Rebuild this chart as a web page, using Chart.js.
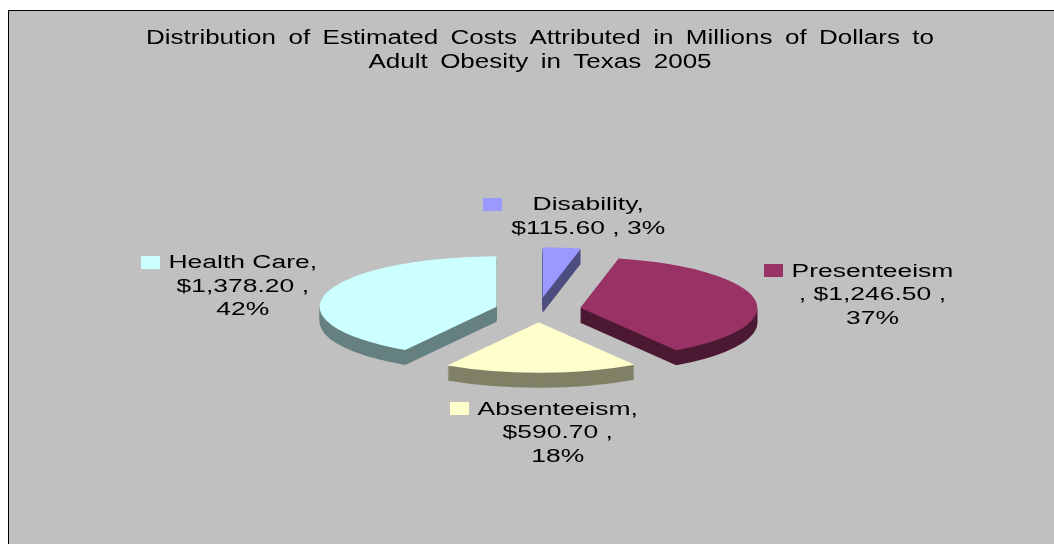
<!DOCTYPE html>
<html>
<head>
<meta charset="utf-8">
<script src="https://cdn.jsdelivr.net/npm/chart.js@4.4.1/dist/chart.umd.min.js"></script>
<style>
  html, body { margin: 0; padding: 0; background: #fff; }
  canvas { display: block; }
</style>
</head>
<body>
<canvas id="pie-chart" width="1054" height="544"></canvas>
<script>
// Values (millions of dollars, Texas 2005)
var categories = ['Disability', 'Presenteeism', 'Absenteeism', 'Health Care'];
var costs = [115.60, 1246.50, 590.70, 1378.20];
var percentLabels = ['3%', '37%', '18%', '42%'];
var titleLines = [
    'Distribution of Estimated Costs Attributed in Millions of Dollars to',
    'Adult Obesity in Texas 2005'
];

// Colours of the top faces and of the darker sides
var topColors = ['#9999FF', '#993366', '#FFFFCC', '#CCFFFF'];
var sideColors = ['#4D4D80', '#4D1A33', '#808066', '#668080'];

// Look of the fake 3D pie
var TILT = 0.285;      // vertical squash of the pie
var DEPTH = 15;        // thickness in px
var EXPLODE = 43;      // how far each slice is pulled out
var RADIUS = 177;
var FONT = "'Liberation Sans', Arial, sans-serif";
var STRETCH = 1.47;    // the original text is drawn wide
var LINE_H = 23.5;

function money(v) {
    return '$' + v.toLocaleString('en-US', {minimumFractionDigits: 2, maximumFractionDigits: 2});
}

// line breaks as they are in the picture
function labelLines(i) {
    var name = categories[i], val = money(costs[i]), pct = percentLabels[i];
    if (i === 0) return [name + ',', val + ' , ' + pct];
    if (i === 1) return [name, ', ' + val + ' ,', pct];
    return [name + ',', val + ' ,', pct];
}

// squash around the pie centre, then drop by "drop" px
function tilt(c, cx, cy, drop) {
    c.translate(cx, cy + drop);
    c.scale(1, TILT);
    c.translate(-cx, -cy);
}

function wideText(c, text, x, y, sx) {
    c.save();
    c.translate(x, y);
    c.scale(sx, 1);
    c.fillText(text, 0, 0);
    c.restore();
}

var pie3d = {
    id: 'pie3d',

    beforeDraw: function(chart) {
        var c = chart.ctx, w = chart.width, h = chart.height;
        c.save();
        c.fillStyle = '#FFFFFF';
        c.fillRect(0, 0, w, h);
        c.fillStyle = '#C0C0C0';
        c.fillRect(9, 11, w - 9, h - 11);
        c.fillStyle = '#000000';
        c.fillRect(8, 10, w - 8, 1);
        c.fillRect(8, 10, 1, h - 10);
        c.restore();
    },

    beforeDatasetsDraw: function(chart) {
        var c = chart.ctx;
        var arcs = chart.getDatasetMeta(0).data;
        var order = arcs.map(function(a, i) { return i; });
        order.sort(function(a, b) {
            var pa = arcs[a].getProps(['startAngle', 'endAngle']);
            var pb = arcs[b].getProps(['startAngle', 'endAngle']);
            return Math.sin((pa.startAngle + pa.endAngle) / 2) - Math.sin((pb.startAngle + pb.endAngle) / 2);
        });

        order.forEach(function(i) {
            var arc = arcs[i];
            var p = arc.getProps(['x', 'y', 'startAngle', 'endAngle', 'outerRadius']);
            var mid = (p.startAngle + p.endAngle) / 2;
            var ex = Math.cos(mid) * EXPLODE, ey = Math.sin(mid) * EXPLODE;

            // side walls: the slice repeated downwards in the dark colour
            for (var d = DEPTH; d >= 1; d--) {
                c.save();
                tilt(c, p.x, p.y, d);
                c.translate(ex, ey);
                c.fillStyle = sideColors[i];
                c.beginPath();
                c.moveTo(p.x, p.y);
                c.arc(p.x, p.y, p.outerRadius, p.startAngle, p.endAngle);
                c.closePath();
                c.fill();
                c.restore();
            }

            // top face, drawn by the arc element itself
            c.save();
            tilt(c, p.x, p.y, 0);
            c.translate(ex, ey);
            arc.draw(c);
            c.restore();
        });
        return false;
    },

    afterDraw: function(chart) {
        var c = chart.ctx;
        c.save();
        c.fillStyle = '#000000';

        // title
        c.font = '20px ' + FONT;
        c.textAlign = 'center';
        c.textBaseline = 'alphabetic';
        if ('wordSpacing' in c) c.wordSpacing = '4px';
        wideText(c, titleLines[0], 540, 44, 1.3);
        wideText(c, titleLines[1], 540, 67.5, 1.3);
        if ('wordSpacing' in c) c.wordSpacing = '0px';

        // data labels with their legend keys
        c.font = '18px ' + FONT;
        var arcs = chart.getDatasetMeta(0).data;
        arcs.forEach(function(arc, i) {
            var p = arc.getProps(['x', 'y', 'startAngle', 'endAngle', 'outerRadius']);
            var mid = (p.startAngle + p.endAngle) / 2;
            var cx = p.x + Math.cos(mid) * EXPLODE;
            var cy = p.y + Math.sin(mid) * EXPLODE * TILT;
            var ax = cx + Math.cos(mid) * p.outerRadius;
            var ay = cy + Math.sin(mid) * p.outerRadius * TILT;
            if (Math.sin(mid) > 0) ay += DEPTH;

            var lines = labelLines(i);
            var textW = 0;
            lines.forEach(function(l) { textW = Math.max(textW, c.measureText(l).width * STRETCH); });
            var keyW = 19, keyGap = 9;
            var hw = (keyW + keyGap + textW) / 2, hh = lines.length * LINE_H / 2;

            var ux = Math.cos(mid), uy = Math.sin(mid) * TILT;
            var len = Math.sqrt(ux * ux + uy * uy);
            ux /= len; uy /= len;
            var t = Math.min(Math.abs(ux) > 1e-6 ? hw / Math.abs(ux) : 1e9,
                             Math.abs(uy) > 1e-6 ? hh / Math.abs(uy) : 1e9) + 9;
            var bx = ax + ux * t, by = ay + uy * t;

            var left = bx - hw, top = by - hh;
            var textCx = left + keyW + keyGap + textW / 2;

            c.fillStyle = topColors[i];
            c.fillRect(Math.round(left), Math.round(top + LINE_H / 2 - 6.5), keyW, 13);

            c.fillStyle = '#000000';
            c.textAlign = 'center';
            lines.forEach(function(l, k) {
                wideText(c, l, textCx, top + LINE_H / 2 + k * LINE_H + 6.4, STRETCH);
            });
        });
        c.restore();
    }
};

var ctx = document.getElementById('pie-chart').getContext('2d');
var chart = new Chart(ctx, {
    type: 'pie',
    data: {
        labels: categories,
        datasets: [{
            data: costs,
            backgroundColor: topColors,
            borderWidth: 0,
            offset: 0,
            hoverOffset: 0
        }]
    },
    options: {
        responsive: false,
        animation: false,
        events: [],
        radius: RADIUS,
        layout: { padding: { left: 22, top: 76, right: 0, bottom: 0 } },
        plugins: {
            legend: { display: false },
            tooltip: { enabled: false },
            title: { display: false }
        }
    },
    plugins: [pie3d]
});
</script>
</body>
</html>
